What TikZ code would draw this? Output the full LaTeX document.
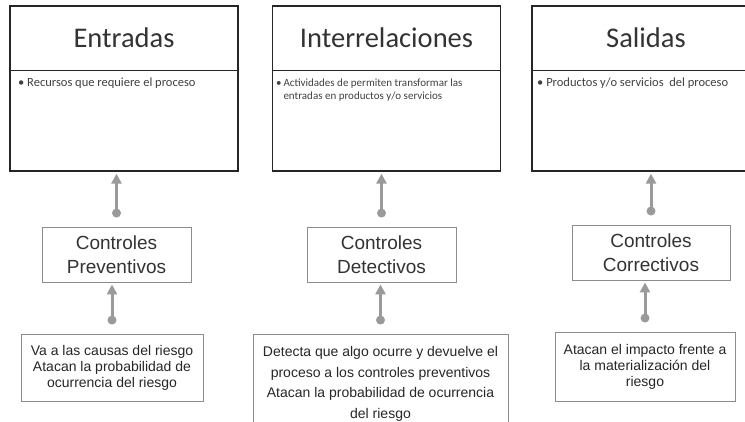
\documentclass[tikz,border=0pt]{standalone}
\usepackage{fontspec}
\usepackage{tikz}
\usetikzlibrary{arrows.meta}
\newfontfamily\carlito{Carlito}
\newfontfamily\arialish{Liberation Sans}
\definecolor{linkgray}{HTML}{9A9A9A}
\definecolor{boxgray}{HTML}{8C8C8C}

\begin{document}
\begin{tikzpicture}
  [x=1pt,y=-1pt,
   topbox/.style={draw=black!85,line width=1.3pt,minimum width=228pt,minimum height=165pt,inner sep=0pt},
   title/.style={anchor=north,minimum width=228pt,minimum height=65pt,inner sep=0pt,font=\carlito\fontsize{28.5}{30}\selectfont,text=black!80},
   item/.style={anchor=north west,inner sep=0pt,align=left,font=\carlito\fontsize{12.5}{13.5}\selectfont,text=black!75},
   ctrl/.style={draw=boxgray,line width=0.9pt,minimum height=55pt,align=center,font=\arialish\fontsize{19}{24}\selectfont,text=black!80},
   note/.style={draw=boxgray,line width=0.9pt,align=center,font=\arialish\fontsize{14}{16}\selectfont,text=black!85},
   link/.style={draw=linkgray,line width=3pt,-{Triangle[length=10pt,width=10pt]},shorten >=2pt}]

  \useasboundingbox (0,0) rectangle (745,421);
  \clip (0,0) rectangle (745,421);

  % cajas del proceso
  \node[topbox] (ent) at (124,88.5) {};
  \node[topbox] (int) at (386.5,88.5) {};
  \node[topbox] (sal) at (646,88.5) {};
  \node[title] (entT) at (ent.north) {Entradas};
  \node[title] (intT) at (int.north) {Interrelaciones};
  \node[title] (salT) at (sal.north) {Salidas};
  \foreach \t in {entT,intT,salT}
    \draw[black!85,line width=1.3pt] (\t.south west) -- (\t.south east);

  \node[item] (entI) at (18,78) {\textbullet\ Recursos que requiere el proceso};
  \node[item,font=\carlito\fontsize{11}{13}\selectfont] (intI) at (276,77)
    {\begin{tabular}{@{}l@{\,}l@{}}\textbullet&Actividades de permiten transformar las\\&entradas en productos y/o servicios\end{tabular}};
  \node[item] (salI) at (537,78) {\textbullet\ Productos y/o servicios \ del proceso};

  % controles
  \node[ctrl,minimum width=149pt] (prev) at (116.5,254.5) {Controles\\Preventivos};
  \node[ctrl,minimum width=149pt] (det) at (381.5,254.5) {Controles\\Detectivos};
  \node[ctrl,minimum width=158pt] (corr) at (651,252.5) {Controles\\Correctivos};

  \node[note,minimum width=182pt,minimum height=67pt] (causa) at (112,367.5)
    {Va a las causas del riesgo\\Atacan la probabilidad de\\ocurrencia del riesgo};
  \node[note,minimum width=255pt,minimum height=100pt,font=\arialish\fontsize{14}{20.5}\selectfont] (detecta) at (380.5,384)
    {Detecta que algo ocurre y devuelve el\\proceso a los controles preventivos\\Atacan la probabilidad de ocurrencia\\del riesgo};
  \node[note,minimum width=180pt,minimum height=69pt] (impacto) at (645,366.5)
    {Atacan el impacto frente a\\la materialización del\\riesgo};

  \foreach \from/\to in {prev/ent,causa/prev,det/int,detecta/det,corr/sal,impacto/corr}
  {
    \fill[linkgray] ([yshift=13.5pt]\from.north) circle (4.5pt);
    \draw[link] ([yshift=13.5pt]\from.north) -- (\from.north |- \to.south);
  }

\end{tikzpicture}
\end{document}
